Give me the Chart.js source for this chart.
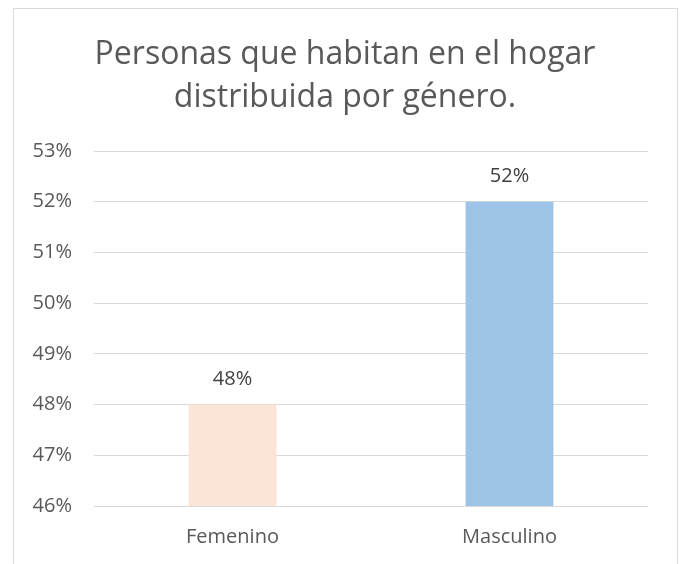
<!DOCTYPE html>
<html>
<head>
<meta charset="utf-8">
<script src="https://cdn.jsdelivr.net/npm/chart.js@4/dist/chart.umd.min.js"></script>
<style>
  html, body { margin: 0; padding: 0; background: #ffffff; }
  #wrap { width: 685px; height: 564px; position: relative; }
</style>
</head>
<body>
<div id="wrap"><canvas id="c" width="685" height="564"></canvas></div>
<script>
const titleLines = ["Personas que habitan en el hogar", "distribuida por género."];
const categories = ["Femenino", "Masculino"];
const values = [0.48, 0.52];
const barColors = ["#FBE5D6", "#9DC3E6"];
const yMin = 0.46;
const yMax = 0.53;
const yStep = 0.01;

const pct = v => Math.round(v * 100) + "%";

const frame = {
  id: "frame",
  beforeDraw(chart) {
    const ctx = chart.ctx;
    ctx.save();
    ctx.fillStyle = "#ffffff";
    ctx.fillRect(0, 0, chart.width, chart.height);
    ctx.strokeStyle = "#D9D9D9";
    ctx.lineWidth = 1;
    ctx.strokeRect(13.5, 8.5, 664, 600);
    ctx.restore();
  }
};

const dataLabels = {
  id: "dataLabels",
  afterDatasetsDraw(chart) {
    const ctx = chart.ctx;
    const meta = chart.getDatasetMeta(0);
    ctx.save();
    ctx.font = "20px 'Open Sans'";
    ctx.fillStyle = "#404040";
    ctx.textAlign = "center";
    ctx.textBaseline = "middle";
    meta.data.forEach((el, i) => {
      ctx.fillText(pct(chart.data.datasets[0].data[i]), el.x, el.y - 25);
    });
    ctx.restore();
  }
};

new Chart(document.getElementById("c"), {
  type: "bar",
  data: {
    labels: categories,
    datasets: [{
      data: values,
      backgroundColor: barColors,
      borderWidth: 0,
      barPercentage: 0.317,
      categoryPercentage: 1.0
    }]
  },
  options: {
    responsive: false,
    animation: false,
    devicePixelRatio: 1,
    layout: { padding: { top: 8, left: 13, right: 8, bottom: 0 } },
    plugins: {
      legend: { display: false },
      tooltip: { enabled: false },
      title: {
        display: true,
        text: titleLines,
        color: "#595959",
        font: { family: "'Open Sans'", size: 32, weight: "normal", lineHeight: 43 / 32 },
        padding: { top: 25, bottom: 32 }
      }
    },
    scales: {
      x: {
        grid: { display: false, drawTicks: false },
        border: { display: false },
        ticks: {
          color: "#595959",
          font: { family: "'Open Sans'", size: 20 },
          padding: 19
        },
        afterFit(scale) { scale.height = 58; }
      },
      y: {
        min: yMin,
        max: yMax,
        grid: { color: "#D9D9D9", lineWidth: 1, drawTicks: false },
        border: { display: false },
        ticks: {
          stepSize: yStep,
          color: "#595959",
          font: { family: "'Open Sans'", size: 20 },
          padding: 22,
          callback: v => pct(v)
        },
        afterFit(scale) { scale.width = 81; }
      },
      yRight: {
        position: "right",
        display: true,
        grid: { display: false, drawTicks: false },
        border: { display: false },
        ticks: { display: false },
        afterFit(scale) { scale.width = 29; }
      }
    }
  },
  plugins: [frame, dataLabels]
});
</script>
</body>
</html>
